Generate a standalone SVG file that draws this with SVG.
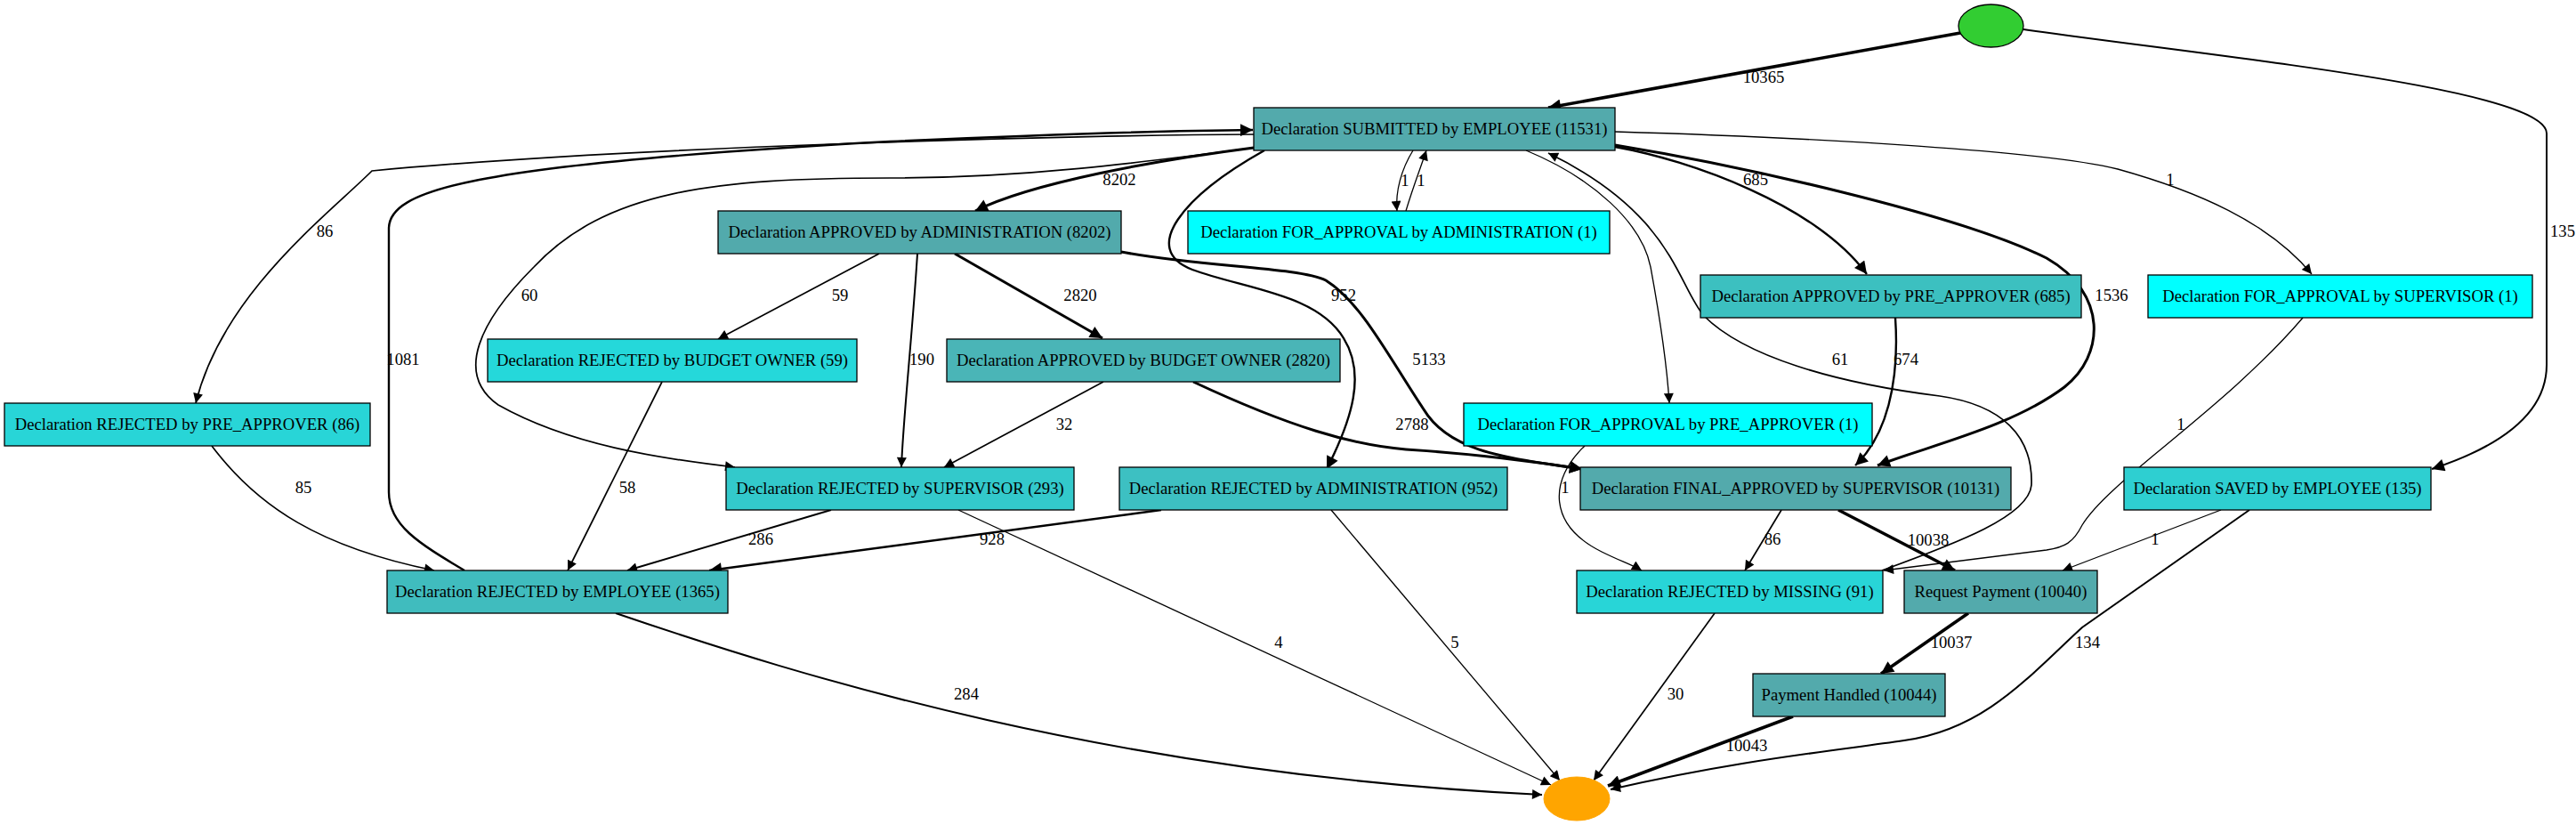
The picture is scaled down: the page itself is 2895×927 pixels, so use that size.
<svg xmlns="http://www.w3.org/2000/svg" width="2895" height="927" viewBox="0 0 2895 927">
<defs>
<style>
.n rect{stroke:#000;stroke-width:1.3}
.n text{font-family:"Liberation Serif","Times New Roman",serif;font-size:18.67px;text-anchor:middle;fill:#000}
.e path{fill:none;stroke:#000}
.lb text{font-family:"Liberation Serif","Times New Roman",serif;font-size:18.67px;text-anchor:middle;fill:#000}
.w1{stroke-width:1.3}
.w2{stroke-width:1.7}
.w3{stroke-width:2}
.w4{stroke-width:2.4}
.w5{stroke-width:3}
.w6{stroke-width:3.6}
.t{marker-end:url(#a1)}
.T{marker-end:url(#a2)}
</style>
<marker id="a1" viewBox="0 0 10 10" refX="10" refY="5" markerWidth="15" markerHeight="11" markerUnits="userSpaceOnUse" orient="auto"><path d="M0,0 L10,5 L0,10 z" fill="#000"/></marker>
<marker id="a2" viewBox="0 0 10 10" refX="10" refY="5" markerWidth="19" markerHeight="14" markerUnits="userSpaceOnUse" orient="auto"><path d="M0,0 L10,5 L0,10 z" fill="#000"/></marker>
</defs>
<rect width="2895" height="927" fill="#fff"/>

<g id="edges" class="e">
<path class="w6 T" d="M2203,37 L1740,121"/>
<path class="w3 T" d="M2274,33 C2500,65 2862,100 2862,150 L2862,410 C2862,470 2800,505 2733,527"/>
<path class="w5 T" d="M1409,166 C1300,180 1160,205 1096,237"/>
<path class="w1 t" d="M1588,169 C1575,190 1568,215 1570,237"/>
<path class="w1 t" d="M1580,237 C1588,210 1596,190 1603,169"/>
<path class="w2 t" d="M1409,151 C1200,152 700,165 418,192 C370,240 250,330 220,453"/>
<path class="w4 T" d="M522,641 C470,610 437,590 437,553 L437,257 C437,215 520,185 1000,159 C1200,150 1300,147 1408,146"/>
<path class="w2 t" d="M1409,166 C1280,183 1150,200 1000,200 C800,200 680,215 600,300 C540,360 510,420 560,455 C640,500 740,515 826,525"/>
<path class="w4 T" d="M1421,169 C1330,220 1280,280 1340,303 C1400,325 1480,330 1510,380 C1535,420 1520,470 1491,527"/>
<path class="w5 T" d="M1260,283 C1350,300 1460,300 1490,315 C1530,340 1560,400 1600,460 C1630,510 1700,515 1778,527"/>
<path class="w5 T" d="M1341,429 C1450,480 1520,500 1580,505 C1660,510 1720,518 1778,527"/>
<path class="w1 t" d="M1715,169 C1790,200 1845,250 1855,300 C1866,360 1874,420 1876,453"/>
<path class="w2 t" d="M2115,641 C2200,610 2280,580 2283,545 C2285,490 2250,455 2180,445 C2060,430 1960,400 1915,355 C1885,320 1880,240 1740,172"/>
<path class="w4 T" d="M1815,165 C1900,180 2040,230 2098,308"/>
<path class="w5 T" d="M1815,163 C1950,185 2200,240 2300,290 C2370,330 2365,400 2320,435 C2260,480 2170,500 2110,523"/>
<path class="w1 t" d="M1815,148 C2050,155 2300,170 2380,190 C2470,215 2550,250 2598,308"/>
<path class="w2 t" d="M988,285 L807,381"/>
<path class="w3 t" d="M1031,285 C1025,380 1015,470 1013,525"/>
<path class="w5 T" d="M1073,285 L1239,380"/>
<path class="w2 t" d="M1240,429 L1061,525"/>
<path class="w2 t" d="M744,429 L638,641"/>
<path class="w2 t" d="M238,501 C290,570 360,615 488,641"/>
<path class="w3 t" d="M934,573 L705,641"/>
<path class="w4 T" d="M1305,573 L797,641"/>
<path class="w1 t" d="M1077,573 L1743,882"/>
<path class="w1 t" d="M1496,573 L1753,877"/>
<path class="w3 t" d="M692,689 C900,760 1250,870 1733,893"/>
<path class="w2 t" d="M1927,689 L1791,877"/>
<path class="w6 T" d="M2015,805 L1807,883"/>
<path class="w3 t" d="M2528,573 L2340,705 C2280,760 2230,820 2140,832 C2050,845 1950,855 1810,887"/>
<path class="w1 t" d="M2496,573 L2318,641"/>
<path class="w2 t" d="M2002,573 L1961,641"/>
<path class="w6 T" d="M2066,573 L2197,641"/>
<path class="w6 T" d="M2212,689 L2114,757"/>
<path class="w1 t" d="M1781,501 C1740,540 1740,590 1800,620 C1820,630 1835,635 1845,641"/>
<path class="w4 T" d="M2130,357 C2135,430 2120,490 2085,523"/>
<path class="w1 t" d="M2588,357 C2500,460 2370,540 2340,590 C2330,610 2320,615 2300,618 L2117,641"/>
</g>

<g id="edge-labels" class="lb">
<text x="1982" y="93">10365</text>
<text x="2880" y="266">135</text>
<text x="1258" y="208">8202</text>
<text x="1579" y="209">1</text>
<text x="1597" y="209">1</text>
<text x="1973" y="208">685</text>
<text x="2439" y="208">1</text>
<text x="2373" y="338">1536</text>
<text x="365" y="266">86</text>
<text x="595" y="338">60</text>
<text x="1510" y="338">952</text>
<text x="453" y="410">1081</text>
<text x="944" y="338">59</text>
<text x="1036" y="410">190</text>
<text x="1214" y="338">2820</text>
<text x="1606" y="410">5133</text>
<text x="1196" y="483">32</text>
<text x="1587" y="483">2788</text>
<text x="2068" y="410">61</text>
<text x="2142" y="410">674</text>
<text x="1759" y="554">1</text>
<text x="2451" y="483">1</text>
<text x="341" y="554">85</text>
<text x="705" y="554">58</text>
<text x="855" y="612">286</text>
<text x="1115" y="612">928</text>
<text x="1992" y="612">86</text>
<text x="2167" y="613">10038</text>
<text x="2422" y="612">1</text>
<text x="1437" y="728">4</text>
<text x="1635" y="728">5</text>
<text x="1086" y="786">284</text>
<text x="1883" y="786">30</text>
<text x="2193" y="728">10037</text>
<text x="1963" y="844">10043</text>
<text x="2346" y="728">134</text>
</g>

<g id="start"><ellipse cx="2237.5" cy="29" rx="36.5" ry="24" fill="#32cd32" stroke="#000" stroke-width="1.3"/></g>
<g id="end"><ellipse cx="1772" cy="897.5" rx="37" ry="24.5" fill="#ffa500" stroke="#ffa500"/></g>

<g id="n_submitted" class="n"><rect x="1409" y="121" width="406" height="48" fill="#53aaac"/><text x="1612" y="151">Declaration SUBMITTED by EMPLOYEE (11531)</text></g>
<g id="n_appr_admin" class="n"><rect x="807" y="237" width="453" height="48" fill="#52aaac"/><text x="1033.5" y="267">Declaration APPROVED by ADMINISTRATION (8202)</text></g>
<g id="n_fa_admin" class="n"><rect x="1335" y="237" width="474" height="48" fill="#00ffff"/><text x="1572" y="267">Declaration FOR_APPROVAL by ADMINISTRATION (1)</text></g>
<g id="n_appr_pre" class="n"><rect x="1911" y="309" width="428" height="48" fill="#3cc0c0"/><text x="2125" y="339">Declaration APPROVED by PRE_APPROVER (685)</text></g>
<g id="n_fa_sup" class="n"><rect x="2414" y="309" width="432" height="48" fill="#00ffff"/><text x="2630" y="339">Declaration FOR_APPROVAL by SUPERVISOR (1)</text></g>
<g id="n_rej_pre" class="n"><rect x="5" y="453" width="411" height="48" fill="#28d5d7"/><text x="210.5" y="483">Declaration REJECTED by PRE_APPROVER (86)</text></g>
<g id="n_rej_budget" class="n"><rect x="548" y="381" width="415" height="48" fill="#25d8da"/><text x="755.5" y="411">Declaration REJECTED by BUDGET OWNER (59)</text></g>
<g id="n_appr_budget" class="n"><rect x="1064" y="381" width="442" height="48" fill="#4ab5b7"/><text x="1285" y="411">Declaration APPROVED by BUDGET OWNER (2820)</text></g>
<g id="n_fa_pre" class="n"><rect x="1645" y="453" width="459" height="48" fill="#00ffff"/><text x="1874.5" y="483">Declaration FOR_APPROVAL by PRE_APPROVER (1)</text></g>
<g id="n_rej_sup" class="n"><rect x="816" y="525" width="391" height="48" fill="#33c9cb"/><text x="1011.5" y="555">Declaration REJECTED by SUPERVISOR (293)</text></g>
<g id="n_rej_admin" class="n"><rect x="1258" y="525" width="436" height="48" fill="#3dc0c2"/><text x="1476" y="555">Declaration REJECTED by ADMINISTRATION (952)</text></g>
<g id="n_final" class="n"><rect x="1776" y="525" width="484" height="48" fill="#53aaac"/><text x="2018" y="555">Declaration FINAL_APPROVED by SUPERVISOR (10131)</text></g>
<g id="n_saved" class="n"><rect x="2387" y="525" width="345" height="48" fill="#2ecfd1"/><text x="2559.5" y="555">Declaration SAVED by EMPLOYEE (135)</text></g>
<g id="n_rej_emp" class="n"><rect x="435" y="641" width="383" height="48" fill="#40bcbe"/><text x="626.5" y="671">Declaration REJECTED by EMPLOYEE (1365)</text></g>
<g id="n_rej_missing" class="n"><rect x="1772" y="641" width="344" height="48" fill="#28d5d7"/><text x="1944" y="671">Declaration REJECTED by MISSING (91)</text></g>
<g id="n_request" class="n"><rect x="2140" y="641" width="217" height="48" fill="#53aaac"/><text x="2248.5" y="671">Request Payment (10040)</text></g>
<g id="n_handled" class="n"><rect x="1970" y="757" width="216" height="48" fill="#53aaac"/><text x="2078" y="787">Payment Handled (10044)</text></g>
</svg>
